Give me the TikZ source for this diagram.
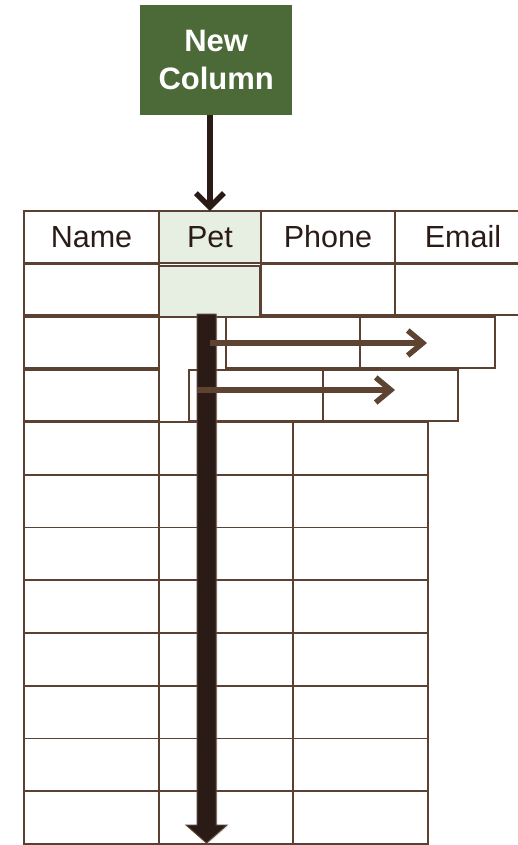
\documentclass[tikz,border=0pt]{standalone}
\usepackage{fontspec}
\setmainfont{Liberation Sans}
\usetikzlibrary{arrows.meta,shadows}

\definecolor{cellline}{HTML}{5A4132}
\definecolor{petfill}{HTML}{E7EFE3}
\definecolor{boxgreen}{HTML}{4C6A37}
\definecolor{inkdark}{HTML}{2A1B16}
\definecolor{arrowbrown}{HTML}{5E4232}

\tikzset{
  tcell/.style={rectangle, draw=cellline, line width=1.9pt, fill=white,
    inner sep=0pt, anchor=north west, text=inkdark,
    font=\fontsize{30.5}{34}\selectfont,
    drop shadow={shadow xshift=1.3pt, shadow yshift=-1.3pt, opacity=0.18}},
  petcell/.style={tcell, fill=petfill},
  headbox/.style={rectangle, fill=boxgreen, anchor=north west, inner sep=0pt,
    text=white, align=center, font=\bfseries\fontsize{31}{38}\selectfont},
  feedarrow/.style={draw=inkdark, line width=5.5pt,
    -{Straight Barb[length=14pt, width=28pt, line width=5.5pt]}},
  shiftarrow/.style={draw=arrowbrown, line width=6pt,
    -{Straight Barb[length=15pt, width=25pt, line width=5.5pt]}},
  bigarrow/.style={fill=inkdark, draw=cellline, line width=1pt, line join=miter}
}

% a table cell: name, left, top, width, height, style, text
\newcommand{\tabcell}[7]{%
  \node[#6, minimum width=#4pt, minimum height=#5pt] (#1) at (#2,#3) {#7};}

\begin{document}
\begin{tikzpicture}[x=1pt, y=-1pt]
  \useasboundingbox (0,0) rectangle (518,845);
  \clip (0,0) rectangle (518,845);

  % header row
  \tabcell{hName}{23}{210}{135}{52}{tcell}{Name}
  \tabcell{hPet}{158}{210}{102}{52}{petcell}{Pet}
  \tabcell{hPhone}{260}{210}{134}{52}{tcell}{Phone}
  \tabcell{hEmail}{394}{210}{136}{52}{tcell}{Email}

  % first data row with the new column cell
  \tabcell{aName}{23}{263}{135}{51}{tcell}{}
  \tabcell{aPhone}{260}{263}{134}{51}{tcell}{}
  \tabcell{aEmail}{394}{263}{136}{51}{tcell}{}
  \tabcell{aPet}{158}{265}{101}{51}{petcell}{}

  % rows being pushed to the right
  \tabcell{bName}{23}{316}{135}{51}{tcell}{}
  \tabcell{bOne}{225}{316}{134}{51}{tcell}{}
  \tabcell{bTwo}{359}{316}{135}{51}{tcell}{}

  \tabcell{cName}{23}{369}{135}{51}{tcell}{}
  \tabcell{cOne}{188}{369}{134}{51}{tcell}{}
  \tabcell{cTwo}{322}{369}{135}{51}{tcell}{}

  % remaining rows
  \foreach \i in {0,...,7} {
    \pgfmathsetmacro{\ty}{421+\i*52.75}
    \tabcell{dName\i}{23}{\ty}{135}{52.75}{tcell}{}
    \tabcell{dPet\i}{158}{\ty}{134}{52.75}{tcell}{}
    \tabcell{dPhone\i}{292}{\ty}{135}{52.75}{tcell}{}
  }

  % the new column label
  \node[headbox, minimum width=152pt, minimum height=110pt] (newcol) at (140,5) {New\\Column};
  \draw[feedarrow] (newcol.south -| hPet.north) -- ([yshift=-1pt]hPet.north);

  % downward push arrow
  \coordinate (dTop) at (206.5,314);
  \coordinate (dTip) at (206.5,843);
  \draw[bigarrow, drop shadow={shadow xshift=1.5pt, shadow yshift=-1pt, opacity=0.2}]
    ([xshift=-9.5pt]dTop) -- ([xshift=9.5pt]dTop) -- ([xshift=9.5pt, yshift=18pt]dTip)
    -- ([xshift=20.5pt, yshift=18pt]dTip) -- (dTip) -- ([xshift=-20.5pt, yshift=18pt]dTip)
    -- ([xshift=-9.5pt, yshift=18pt]dTip) -- cycle;

  % sideways push arrows
  \coordinate (sOneA) at (210,343);
  \coordinate (sOneB) at (427,343);
  \coordinate (sTwoA) at (197,390);
  \coordinate (sTwoB) at (395,390);
  \draw[shiftarrow] (sOneA) -- (sOneB);
  \draw[shiftarrow] (sTwoA) -- (sTwoB);
\end{tikzpicture}
\end{document}
